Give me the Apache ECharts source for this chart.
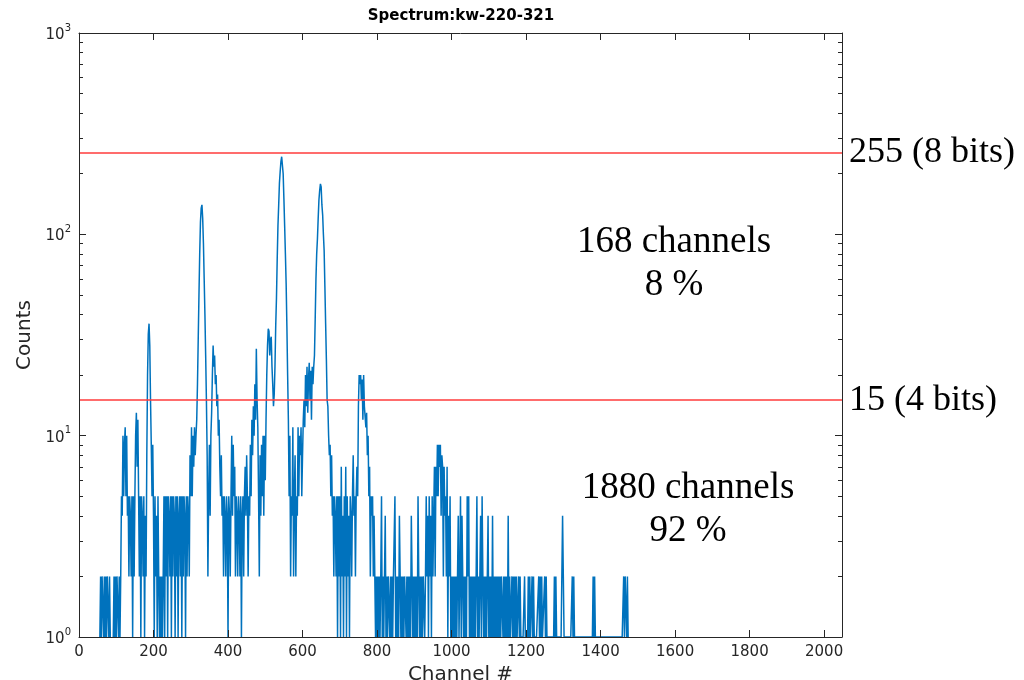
<!DOCTYPE html>
<html>
<head>
<meta charset="utf-8">
<script src="https://cdn.jsdelivr.net/npm/echarts@6/dist/echarts.min.js"></script>
<style>
  html, body { margin: 0; padding: 0; background: #fff; }
  #chart { width: 1024px; height: 680px; }
</style>
</head>
<body>
<div id="chart"></div>
<script>
// Gamma spectrum kw-220-321: counts per channel, stored every 2nd channel,
// one array per block of 100 channels (0 = no counts).
const STEP = 2;
const BLOCK = 100;

const seg00 = [0,0,0,0,0,0,0,0,0,0, 0,0,0,0,0,0,0,0,0,0, 0,0,0,0,0,0,0,0,
  1,2,1,2,2,1,2,1,2,1,2,2,1,2,1, 0,0,0,1,2,1,2];
const seg01 = [1,2,2,1,2,1, 2,5,4,10,5,9,11,5,10,4, 5,2,5,4,2,5,1,5,2, 5,10,13,7,12,5,
  2,5,1,5,4,2,5,1,4,2, 8,20,32,36,28,15,9,5,9];
const seg02 = [4,1,5,2,4,1,5,2,1,2, 1,2,1,2,5,1,5,2,5,1, 5,4,2,5,1,5,2,5,4,1,
  5,2,5,1,4,5,2,5,1,5, 2,5,4,1,5,2,5,4,2,8];
const seg03 = [5,11,5,10,7,11,8,10, 12,18,30,50,80,115,135,140,120,90,60,40,25,15,8,2,
  5,9,4,10,13,20,28,22,25,18,20,14,16,10,12,7,5,8,4,5,2,5,4,2,5,4];
const seg04 = [1,5,4,2,5,10,4,9,5,7, 2,5,4,2,5,4,2,5,1,4, 5,2,5,7,4,8,5,2,5,4,
  9,5,12,8,14,10,18,12,27,15, 11,5,2,8,4,9,5,10,4,10];
const seg05 = [6,12,20,28,34,33,25,30,31,22,18,14,
  16,22,35,48,75,110,140,180,205,230,243,240,200,150,110,80,57,35,20,12,
  5,10,2,5,4,11,2,5,8,2,5,4,11,5,10,8,11,5];
const seg06 = [8,12,15,11,20,14,22,13,19,23,15,21,12,22,18,22,25,38,
  60,80,95,120,148,165,178,172,140,125,100,83,55,36,24,15,14,10,
  8,9,5,8,4,5,2,5,4,2,5,1,5,2];
const seg07 = [5,1,7,2,4,1,5,2,7,1, 5,2,4,1,5,4,2,5,8,4,
  5,2,5,7,5,14,20,18,20,15,19,12,20,14,
  14,11,13,8,10,5,7,2,5,4,5,2,4,2,1,2];
const seg08 = [1,2,1,2,1,2,5,1,2,1, 2,4,1,2,1,2,2,1,2,1, 2,1,2,2,5,1,2,1,2,1,
  4,2,1,2,1,2,1,2,2,1, 2,1,2,1,2,1,4,2,1,2];
const seg09 = [1,2,1,2,1,5,2,1,2,1, 2,1,2,2,1,2,5,2,4,1,
  5,2,4,1,5,2,4,7,2,7,5,9,5,9,7,9,4,8,7,2, 7,4,5,2,7,1,4,2,5,1];
const seg10 = [2,1,2,1,2,1,2,1,2,4, 1,2,5,1,4,2,1,2,1,2, 1,5,2,5,1,2,1,2,1,2,
  1,2,1,2,5,1,2,1,2,4, 1,5,2,1,2,1,2,1,2,4];
const seg11 = [1,2,1,2,1,4,1,2,1,2, 1,2,1,2,1,2,1,2,2,1, 2,1,2,1,2,1,4,1,2,1,
  1,2,1,2,1,2,1,2,1,1, 2,1,2,1,1,1,1,1,2,1];
const seg12 = [1,1,1,2,1,2,1,1,2,1, 2,1,1,1,1,1,1,2,1,2, 1,2,1,1,1,2,1,2,1,1,
  1,1,1,1,1,1,1,1,2,1, 2,1,1,1,1,1,1,1,2,4];
const seg13 = [2,1,1,1,1,1,1,1,1,1, 1,1,2,1,2,1,1,1,1,1, 1,1,1,1,1,1,1,1,1,1,
  1,1,1,1,1,1,1,1,1,1, 2,1,2,1,1,1,1,1,1,1];
const seg14 = [1,1,1,1,1,1,1,1,1,1, 1,1,1,1,1,1,1,1,1,1, 1,1,1,1,1,1,1,1,1,1,
  1,2,1,2,2,1,2,1,0,0, 0,0,0,0,0,0,0,0,0,0];

const segments = [seg00, seg01, seg02, seg03, seg04, seg05, seg06, seg07,
                  seg08, seg09, seg10, seg11, seg12, seg13, seg14];

// Threshold lines and their labels
const thresholds = [255, 15];
const thresholdLabels = ['255 (8 bits)', '15 (4 bits)'];

// Tick values
const xTickValues = [0, 200, 400, 600, 800, 1000, 1200, 1400, 1600, 1800, 2000];
const yMinorTickValues = [2,3,4,5,6,7,8,9, 20,30,40,50,60,70,80,90, 200,300,400,500,600,700,800,900];

// Build [channel, counts] pairs; empty channels cannot be shown on a log axis
const points = [];
segments.forEach((seg, k) => {
  seg.forEach((v, i) => {
    points.push([k * BLOCK + i * STEP, v > 0 ? v : null]);
  });
});

const AXIS = '#262626';
const SANS = 'DejaVu Sans';
const SERIF = 'Liberation Serif';

const chart = echarts.init(document.getElementById('chart'), null, { renderer: 'canvas' });

const xBase = {
  type: 'value', min: 0, max: 2048, z: 5,
  splitLine: { show: false },
  axisLine: { show: true, onZero: false, lineStyle: { color: AXIS, width: 1 } },
  axisTick: { show: true, inside: true, length: 7, customValues: xTickValues,
              lineStyle: { color: AXIS, width: 1 } }
};
const yBase = {
  type: 'log', logBase: 10, min: 1, max: 1000, z: 5,
  splitLine: { show: false },
  minorTick: { show: false },
  axisLine: { show: true, onZero: false, lineStyle: { color: AXIS, width: 1 } },
  axisTick: { show: true, inside: true, length: 7, lineStyle: { color: AXIS, width: 1 } }
};
// Minor ticks of the log scale, placed on a linear axis spanning the same decades
const yMinor = {
  type: 'value', min: 0, max: 3, z: 5,
  splitLine: { show: false },
  axisLine: { show: false, onZero: false },
  axisLabel: { show: false },
  axisTick: { show: true, inside: true, length: 4,
              customValues: yMinorTickValues.map(v => Math.log10(v)),
              lineStyle: { color: AXIS, width: 1 } }
};

const option = {
  animation: false,
  backgroundColor: '#fff',
  grid: { left: 79, right: 182, top: 33, bottom: 43, containLabel: false, outerBoundsMode: 'none' },
  xAxis: [
    Object.assign({}, xBase, {
      position: 'bottom',
      axisLabel: { customValues: xTickValues, margin: 8, fontFamily: SANS, fontSize: 15, color: AXIS,
                   formatter: v => String(v) },
      name: 'Channel #', nameLocation: 'middle', nameGap: 21,
      nameTextStyle: { fontFamily: SANS, fontSize: 20, color: AXIS }
    }),
    Object.assign({}, xBase, { position: 'top', axisLabel: { show: false } })
  ],
  yAxis: [
    Object.assign({}, yBase, {
      position: 'left',
      axisLabel: {
        margin: 8,
        formatter: v => '{b|10}{s|' + Math.round(Math.log10(v)) + '}',
        rich: {
          b: { fontFamily: SANS, fontSize: 15, color: AXIS, lineHeight: 20, padding: [4, 0, 0, 0] },
          s: { fontFamily: SANS, fontSize: 10, color: AXIS, lineHeight: 10, verticalAlign: 'top' }
        }
      },
      name: 'Counts', nameLocation: 'middle', nameGap: 38, nameRotate: 90,
      nameTextStyle: { fontFamily: SANS, fontSize: 20, color: AXIS }
    }),
    Object.assign({}, yBase, { position: 'right', axisLabel: { show: false } }),
    Object.assign({}, yMinor, { position: 'left' }),
    Object.assign({}, yMinor, { position: 'right' })
  ],
  series: [{
    type: 'line',
    xAxisIndex: 0,
    yAxisIndex: 0,
    data: points,
    symbol: 'none',
    showSymbol: false,
    connectNulls: false,
    lineStyle: { color: '#0072BD', width: 1.5 },
    z: 2,
    markLine: {
      silent: true,
      symbol: ['none', 'none'],
      lineStyle: { color: '#ff3b3b', width: 1.6, type: 'solid' },
      label: {
        position: 'end', distance: 7,
        fontFamily: SERIF, fontSize: 36, color: '#000',
        formatter: p => p.name
      },
      data: thresholds.map((t, i) => ({ yAxis: t, name: thresholdLabels[i] }))
    }
  }],
  graphic: [
    { type: 'text', x: 461, y: 9,
      style: { text: 'Spectrum:kw-220-321', fontFamily: SANS, fontWeight: 'bold', fontSize: 15,
               fill: '#000', align: 'center', verticalAlign: 'top' } },
    { type: 'text', x: 674, y: 221,
      style: { text: '168 channels\n8 %', fontFamily: SERIF, fontSize: 37, lineHeight: 43,
               fill: '#000', align: 'center', verticalAlign: 'top' } },
    { type: 'text', x: 688, y: 467,
      style: { text: '1880 channels\n92 %', fontFamily: SERIF, fontSize: 37, lineHeight: 43,
               fill: '#000', align: 'center', verticalAlign: 'top' } }
  ]
};

chart.setOption(option);
</script>
</body>
</html>
